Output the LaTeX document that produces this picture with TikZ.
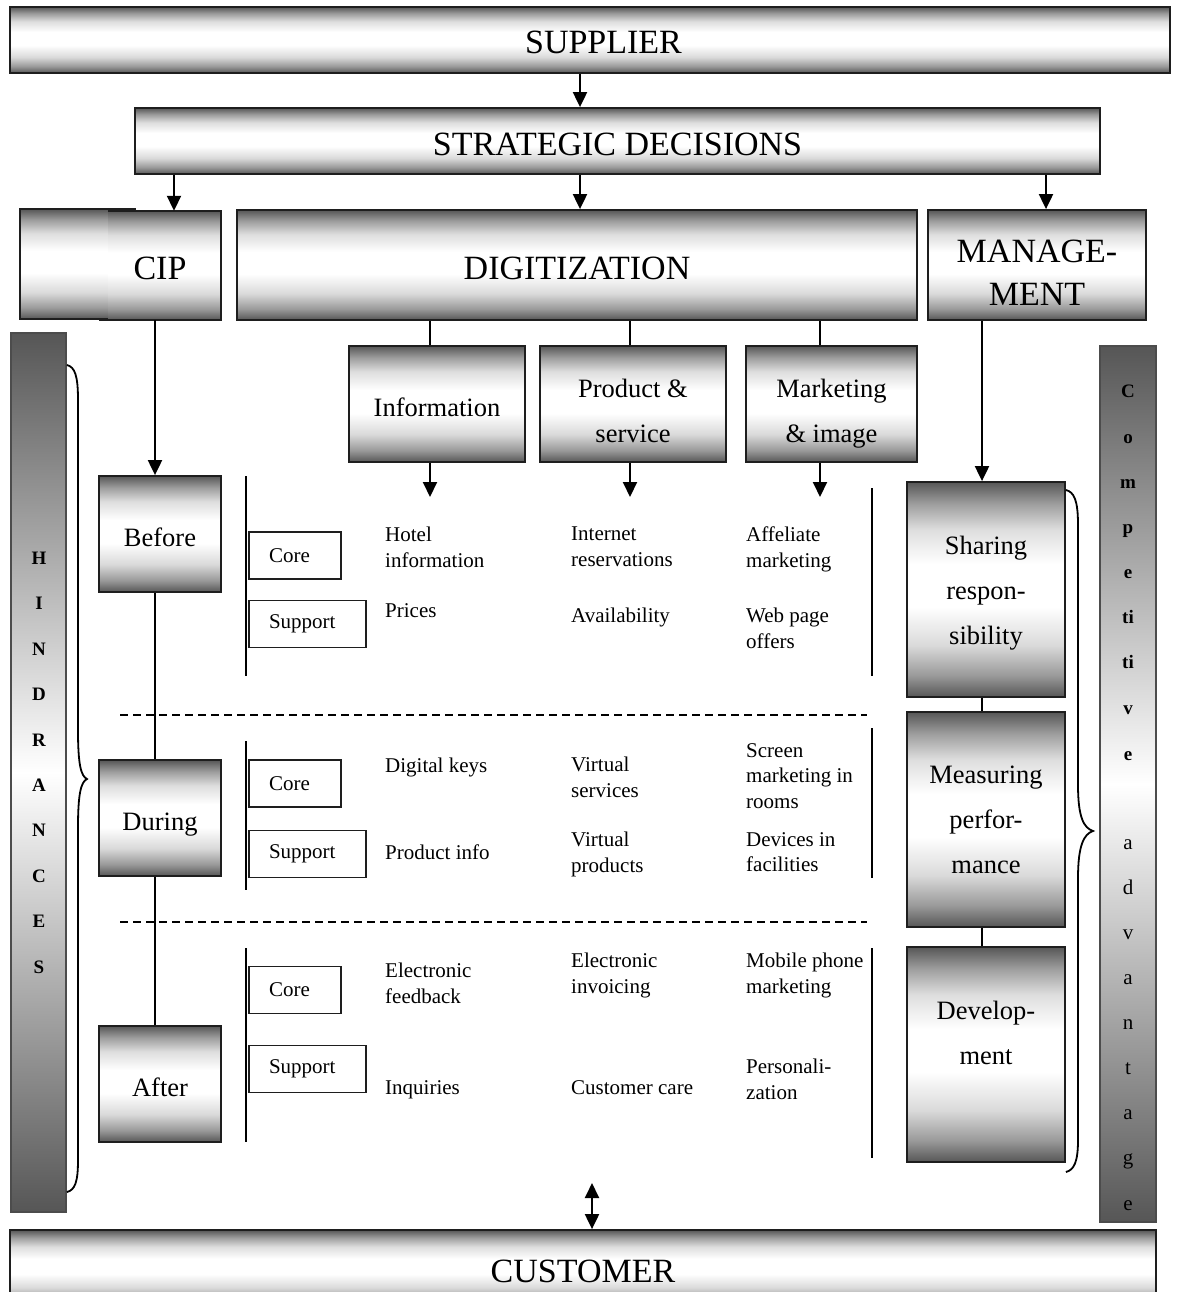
\documentclass[tikz,border=0pt]{standalone}
\usepackage{fontspec}
\setmainfont{Liberation Serif}
\usetikzlibrary{arrows.meta}
\definecolor{tubedark}{RGB}{86,86,86}
\definecolor{edge}{RGB}{30,30,30}
% cylinder-like shading: dark rims, broad white centre
\pgfdeclareverticalshading{cylinder}{100bp}{%
  color(0bp)=(tubedark); color(25bp)=(tubedark);
  color(30bp)=(tubedark!60!white); color(37bp)=(tubedark!22!white);
  color(46bp)=(white); color(56bp)=(white);
  color(64bp)=(tubedark!20!white); color(70bp)=(tubedark!58!white);
  color(75bp)=(tubedark); color(100bp)=(tubedark)}
\def\tophval{28pt}
\begin{document}
\begin{tikzpicture}[x=1pt,y=-1pt,
  toph/.code={\def\tophval{#1}},
  tube/.style={shading=cylinder, draw=edge, line width=1.8pt, inner sep=0pt},
  tubefill/.style={shading=cylinder, inner sep=0pt},
  column/.style={shade, top color=tubedark, bottom color=tubedark, middle color=white,
    draw=black!70, line width=1.8pt, inner sep=0pt},
  big/.style={font=\fontsize{34}{43}\selectfont, align=center, toph=32pt,
    execute at begin node={\rule[-2pt]{0pt}{\tophval}}, execute at end node={\rule[-2pt]{0pt}{2pt}}},
  mid/.style={font=\fontsize{26.5}{45}\selectfont, align=center,
    execute at begin node={\rule[-2pt]{0pt}{\tophval}}, execute at end node={\rule[-2pt]{0pt}{2pt}}},
  small/.style={font=\fontsize{21}{25.5}\selectfont, align=left, anchor=north west, inner sep=0pt},
  tag/.style={draw=edge, line width=1.8pt, font=\fontsize{21}{25}\selectfont, inner sep=0pt,
    minimum height=47pt, align=left},
  arr/.style={-{Triangle[width=14pt,length=15pt]}, line width=2pt},
  arrboth/.style={{Triangle[width=14pt,length=15pt]}-{Triangle[width=14pt,length=15pt]}, line width=2pt},
  link/.style={line width=2pt},
  sepline/.style={line width=2pt},
  divider/.style={line width=2pt, dash pattern=on 8pt off 5pt},
  barletter/.style={font=\fontsize{19}{19}\bfseries\selectfont, inner sep=0pt, text height=13pt, text depth=0pt},
  barplain/.style={font=\fontsize{21}{21}\selectfont, inner sep=0pt, text height=13pt, text depth=0pt},
  brace/.style={line width=1.8pt}
]
\useasboundingbox (0,0) rectangle (1182,1292);

% column guides for connectors
\coordinate (x155) at (155,0);
\coordinate (x174) at (174,0);
\coordinate (x430) at (430,0);
\coordinate (x580) at (580,0);
\coordinate (x592) at (592,0);
\coordinate (x630) at (630,0);
\coordinate (x820) at (820,0);
\coordinate (x982) at (982,0);
\coordinate (x1046) at (1046,0);

% top bars
\node[tube, big, minimum width=1160pt, minimum height=66pt] (sup) at (590,40) {\hspace*{27pt}SUPPLIER};
\node[tube, big, toph=34pt, minimum width=965pt, minimum height=66pt] (strat) at (617.5,141) {STRATEGIC DECISIONS};

% second row
\node[tube, minimum width=115pt, minimum height=110pt] (cipback) at (77.5,264) {};
\node[tubefill, big, minimum width=113pt, minimum height=109pt] (cip) at (164.5,265.5) {\hspace*{-9pt}CIP};
\draw[edge, line width=1.8pt] (cip.north west) -- (cip.north east) -- (cip.south east) -- (cip.south west) -- ++(-9,0);
\node[tube, big, minimum width=680pt, minimum height=110pt] (dig) at (577,265) {DIGITIZATION};
\node[tube, minimum width=218pt, minimum height=110pt] (mgmt) at (1037,265) {};
\node[big] (mgmttext) at (1037,273.5) {MANAGE-\\MENT};

% digitization areas
\node[tube, mid, minimum width=176pt, minimum height=116pt] (info) at (437,404) {Information};
\node[tube, minimum width=186pt, minimum height=116pt] (prod) at (633,404) {};
\node[mid] (prodtext) at (633,411.5) {Product \&\\service};
\node[tube, minimum width=171pt, minimum height=116pt] (mkt) at (831.5,404) {};
\node[mid] (mkttext) at (831.5,413.5) {Marketing\\\& image};

% phases
\node[tube, mid, minimum width=122pt, minimum height=116pt] (before) at (160,534) {Before};
\node[tube, mid, toph=32pt, minimum width=122pt, minimum height=116pt] (during) at (160,818) {During};
\node[tube, mid, minimum width=122pt, minimum height=116pt] (after) at (160,1084) {After};

% management steps
\node[tube, minimum width=158pt, minimum height=215pt] (share) at (986,589.5) {};
\node[mid] (sharetext) at (986,593) {Sharing\\respon-\\sibility};
\node[tube, minimum width=158pt, minimum height=215pt] (meas) at (986,819.5) {};
\node[mid] (meastext) at (986,821) {Measuring\\perfor-\\mance};
\node[tube, minimum width=158pt, minimum height=215pt] (dev) at (986,1054.5) {};
\node[mid] (devtext) at (986,1034) {Develop-\\ment};

% side bars
\node[column, minimum width=55pt, minimum height=879pt] (hind) at (38.5,772.5) {};
\node[column, minimum width=56pt, minimum height=876pt] (comp) at (1128,784) {};
\foreach \L [count=\i from 0] in {H,I,N,D,R,A,N,C,E,S}
  \node[barletter] (hl\i) at (39,558+45.4*\i) {\L};
\foreach \L/\y [count=\i] in {C/391,o/437,m/482,p/527,e/572,ti/617,ti/662,v/708,e/754}
  \node[barletter] (cl\i) at (1128,\y) {\L};
\foreach \L/\y [count=\i] in {a/843,d/888,v/933,a/978,n/1023,t/1068,a/1113,g/1158,e/1204}
  \node[barplain] (al\i) at (1128,\y) {\L};

% braces
\draw[brace] (hind.east |- 0,365) .. controls (75,367) and (78,376) .. (78,400)
  -- (78,730) .. controls (78,765) and (81,776) .. (87,779)
  .. controls (81,782) and (78,793) .. (78,828)
  -- (78,1160) .. controls (78,1182) and (75,1190) .. (hind.east |- 0,1192);
\draw[brace] (share.east |- 0,490) .. controls (1074,492) and (1078,500) .. (1078,525)
  -- (1078,785) .. controls (1078,818) and (1084,828) .. (1093,831)
  .. controls (1084,834) and (1078,845) .. (1078,878)
  -- (1078,1140) .. controls (1078,1162) and (1074,1170) .. (dev.east |- 0,1172);

% customer bar
\node[tube, big, minimum width=1146pt, minimum height=76pt] (cust) at (583,1268) {CUSTOMER};

% connectors
\draw[arr] (x580 |- sup.south) -- (x580 |- strat.north);
\draw[arr] (x174 |- strat.south) -- (x174 |- cip.north);
\draw[arr] (x580 |- strat.south) -- (x580 |- dig.north);
\draw[arr] (x1046 |- strat.south) -- (x1046 |- mgmt.north);
\draw[link] (x430 |- dig.south) -- (x430 |- info.north);
\draw[link] (x630 |- dig.south) -- (x630 |- prod.north);
\draw[link] (x820 |- dig.south) -- (x820 |- mkt.north);
\coordinate (infoend) at (430,497);
\coordinate (prodend) at (630,497);
\coordinate (mktend) at (820,497);
\draw[arr] (x430 |- info.south) -- (infoend);
\draw[arr] (x630 |- prod.south) -- (prodend);
\draw[arr] (x820 |- mkt.south) -- (mktend);
\draw[arr] (x155 |- cip.south) -- (x155 |- before.north);
\draw[link] (before.south -| x155) -- (during.north -| x155);
\draw[link] (during.south -| x155) -- (after.north -| x155);
\draw[arr] (x982 |- mgmt.south) -- (x982 |- share.north);
\draw[link] (share.south -| x982) -- (meas.north -| x982);
\draw[link] (meas.south -| x982) -- (dev.north -| x982);
\coordinate (custtop) at (592,1183);
\draw[arrboth] (custtop) -- (x592 |- cust.north);

% section rules
\draw[sepline] (246,476) -- (246,676);
\draw[sepline] (246,741) -- (246,890);
\draw[sepline] (246,948) -- (246,1142);
\draw[sepline] (872,488) -- (872,676);
\draw[sepline] (872,728) -- (872,878);
\draw[sepline] (872,948) -- (872,1158);
\draw[divider] (120,715) -- (867,715);
\draw[divider] (120,922) -- (867,922);

% core / support tags
\node[tag, minimum width=92pt, text width=52pt] (core1) at (295,555.5) {Core};
\node[tag, minimum width=117pt, text width=77pt] (supp1) at (307.5,624) {Support};
\node[tag, minimum width=92pt, text width=52pt] (core2) at (295,783.5) {Core};
\node[tag, minimum width=117pt, text width=77pt] (supp2) at (307.5,854) {Support};
\node[tag, minimum width=92pt, text width=52pt] (core3) at (295,990) {Core};
\node[tag, minimum width=117pt, text width=77pt] (supp3) at (307.5,1069) {Support};

% items: before
\node[small] (t11) at (385,527) {Hotel\\information};
\node[small] (t12) at (385,603) {Prices};
\node[small] (t13) at (571,527) {Internet\\reservations};
\node[small] (t14) at (571,608) {Availability};
\node[small] (t15) at (746,527) {Affeliate\\marketing};
\node[small] (t16) at (746,608) {Web page\\offers};
% items: during
\node[small] (t21) at (385,758) {Digital keys};
\node[small] (t22) at (385,845) {Product info};
\node[small] (t23) at (571,757) {Virtual\\services};
\node[small] (t24) at (571,832) {Virtual\\products};
\node[small] (t25) at (746,743) {Screen\\marketing in\\rooms};
\node[small] (t26) at (746,832) {Devices in\\facilities};
% items: after
\node[small] (t31) at (385,963) {Electronic\\feedback};
\node[small] (t32) at (385,1080) {Inquiries};
\node[small] (t33) at (571,953) {Electronic\\invoicing};
\node[small] (t34) at (571,1080) {Customer care};
\node[small] (t35) at (746,953) {Mobile phone\\marketing};
\node[small] (t36) at (746,1059) {Personali-\\zation};
\end{tikzpicture}
\end{document}
